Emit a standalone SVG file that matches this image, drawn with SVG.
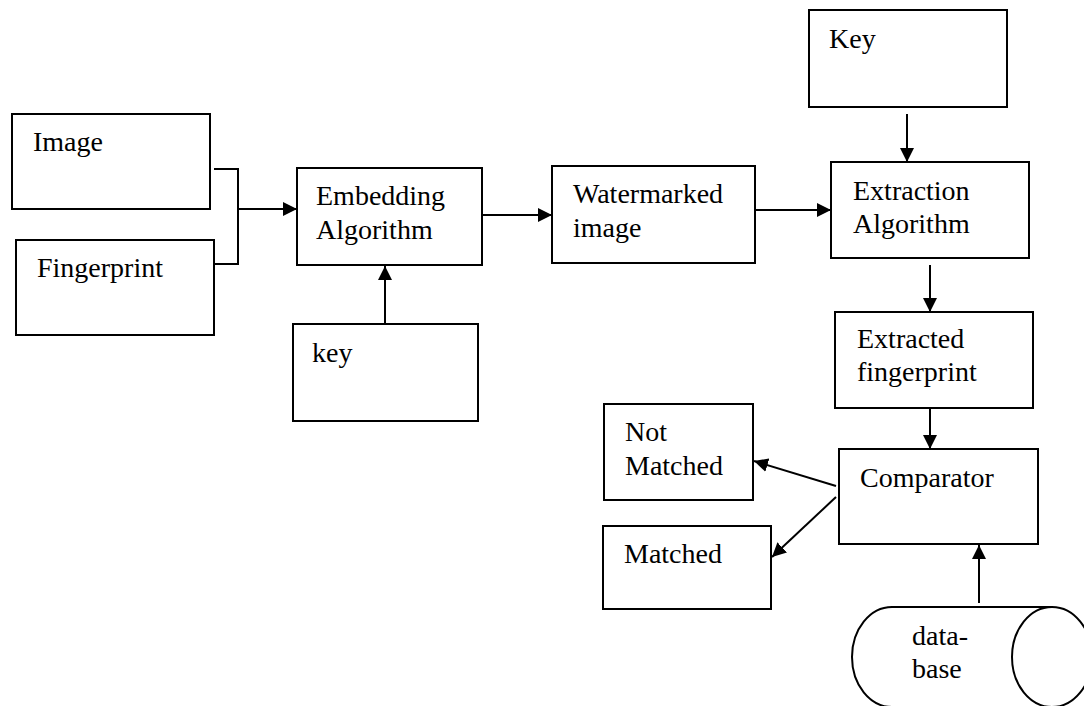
<svg xmlns="http://www.w3.org/2000/svg" width="1084" height="706" viewBox="0 0 1084 706">
<style>
.box{fill:#fff;stroke:#000;stroke-width:2}
.t{font-family:"Liberation Serif","Times New Roman",serif;font-size:28px;fill:#000}
.c{fill:none;stroke:#000;stroke-width:2}
</style>
<defs>
<marker id="ah" markerUnits="userSpaceOnUse" markerWidth="15" markerHeight="14" refX="14" refY="7" orient="auto">
<path d="M0,0 L14,7 L0,14 z" fill="#000"/>
</marker>
</defs>
<rect width="1084" height="706" fill="#fff"/>
<g id="connectors">
<path class="c" d="M214,169 H238 V264 H215"/>
<path class="c" d="M238,209 H297" marker-end="url(#ah)"/>
<path class="c" d="M482,215 H552" marker-end="url(#ah)"/>
<path class="c" d="M755,210 H831" marker-end="url(#ah)"/>
<path class="c" d="M385,324 V266" marker-end="url(#ah)"/>
<path class="c" d="M907,114 V162" marker-end="url(#ah)"/>
<path class="c" d="M930,265 V312" marker-end="url(#ah)"/>
<path class="c" d="M930,408 V449" marker-end="url(#ah)"/>
<path class="c" d="M836,486 L754,461" marker-end="url(#ah)"/>
<path class="c" d="M836,497 L772,557" marker-end="url(#ah)"/>
<path class="c" d="M979,603 V545" marker-end="url(#ah)"/>
</g>
<g id="image"><rect class="box" x="12" y="114" width="198" height="95"/><text class="t" x="33" y="151">Image</text></g>
<g id="fingerprint"><rect class="box" x="16" y="240" width="198" height="95"/><text class="t" x="37" y="277">Fingerprint</text></g>
<g id="embedding"><rect class="box" x="297" y="168" width="185" height="97"/><text class="t" x="316" y="205">Embedding</text><text class="t" x="316" y="239">Algorithm</text></g>
<g id="key1"><rect class="box" x="293" y="324" width="185" height="97"/><text class="t" x="312" y="362">key</text></g>
<g id="watermarked"><rect class="box" x="552" y="166" width="203" height="97"/><text class="t" x="573" y="203">Watermarked</text><text class="t" x="573" y="237">image</text></g>
<g id="key2"><rect class="box" x="809" y="10" width="198" height="97"/><text class="t" x="829" y="48">Key</text></g>
<g id="extraction"><rect class="box" x="831" y="162" width="198" height="96"/><text class="t" x="853" y="200">Extraction</text><text class="t" x="853" y="233">Algorithm</text></g>
<g id="extracted"><rect class="box" x="835" y="312" width="198" height="96"/><text class="t" x="857" y="348">Extracted</text><text class="t" x="857" y="381">fingerprint</text></g>
<g id="comparator"><rect class="box" x="839" y="449" width="199" height="95"/><text class="t" x="860" y="487">Comparator</text></g>
<g id="notmatched"><rect class="box" x="604" y="404" width="149" height="96"/><text class="t" x="625" y="441">Not</text><text class="t" x="625" y="475">Matched</text></g>
<g id="matched"><rect class="box" x="603" y="526" width="168" height="83"/><text class="t" x="624" y="563">Matched</text></g>
<g id="database">
<path class="box" d="M892,607 H1052 V707 H892 A40,50 0 0 1 892,607 Z"/>
<ellipse class="box" cx="1052" cy="657" rx="40" ry="50"/>
<text class="t" x="912" y="645">data-</text><text class="t" x="912" y="678">base</text>
</g>
</svg>
